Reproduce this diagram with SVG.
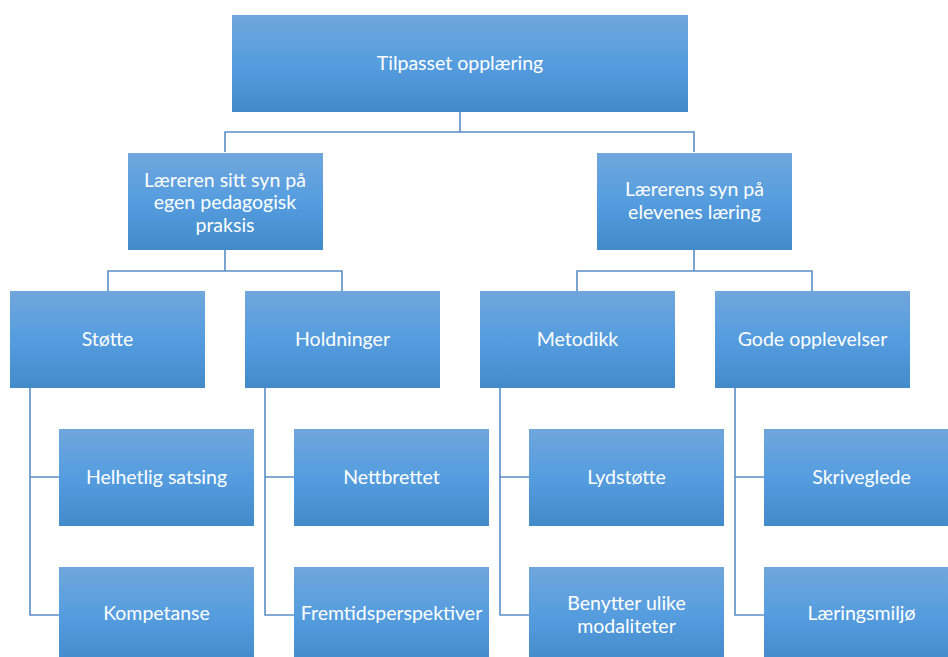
<svg xmlns="http://www.w3.org/2000/svg" width="948" height="657" viewBox="0 0 948 657">
<defs>
<linearGradient id="g" x1="0" y1="0" x2="0" y2="1">
<stop offset="0" stop-color="#70a6dc"/>
<stop offset="0.5" stop-color="#559ddf"/>
<stop offset="1" stop-color="#438ac9"/>
</linearGradient>
<style>
.b{fill:url(#g);}
.t{font-family:Lato,"Liberation Sans",sans-serif;font-size:19.5px;fill:#ffffff;text-anchor:middle;}
.c{fill:none;stroke:#5b8ec6;stroke-width:1.6;}
</style>
</defs>
<rect width="948" height="657" fill="#ffffff"/>
<g id="connectors">
<path class="c" d="M460 112V132M225 152V132H694V152"/>
<path class="c" d="M225 250V271M108 291V271H342V291"/>
<path class="c" d="M694 250V271M577 291V271H812V291"/>
<path class="c" d="M30 388V615H59M30 477H59"/>
<path class="c" d="M265 388V615H294M265 477H294"/>
<path class="c" d="M500 388V615H529M500 477H529"/>
<path class="c" d="M735 388V615H764M735 477H764"/>
</g>
<g id="n0"><rect class="b" x="232" y="15" width="456" height="97"/><text class="t" x="460" y="70">Tilpasset opplæring</text></g>
<g id="n1"><rect class="b" x="128" y="153" width="195" height="97"/><text class="t" x="225" y="187">Læreren sitt syn på</text><text class="t" x="225" y="209">egen pedagogisk</text><text class="t" x="225" y="232">praksis</text></g>
<g id="n2"><rect class="b" x="597" y="153" width="195" height="97"/><text class="t" x="694.5" y="196">Lærerens syn på</text><text class="t" x="694.5" y="219">elevenes læring</text></g>
<g id="n3"><rect class="b" x="10" y="291" width="195" height="97"/><text class="t" x="107.5" y="346">Støtte</text></g>
<g id="n4"><rect class="b" x="245" y="291" width="195" height="97"/><text class="t" x="342.5" y="346">Holdninger</text></g>
<g id="n5"><rect class="b" x="480" y="291" width="195" height="97"/><text class="t" x="577.5" y="346">Metodikk</text></g>
<g id="n6"><rect class="b" x="715" y="291" width="195" height="97"/><text class="t" x="812.5" y="346">Gode opplevelser</text></g>
<g id="n7"><rect class="b" x="59" y="429" width="195" height="97"/><text class="t" x="156.5" y="484">Helhetlig satsing</text></g>
<g id="n8"><rect class="b" x="59" y="567" width="195" height="97"/><text class="t" x="156.5" y="620">Kompetanse</text></g>
<g id="n9"><rect class="b" x="294" y="429" width="195" height="97"/><text class="t" x="391.5" y="484">Nettbrettet</text></g>
<g id="n10"><rect class="b" x="294" y="567" width="195" height="97"/><text class="t" x="391.5" y="620">Fremtidsperspektiver</text></g>
<g id="n11"><rect class="b" x="529" y="429" width="195" height="97"/><text class="t" x="626.5" y="484">Lydstøtte</text></g>
<g id="n12"><rect class="b" x="529" y="567" width="195" height="97"/><text class="t" x="626.5" y="610">Benytter ulike</text><text class="t" x="626.5" y="633">modaliteter</text></g>
<g id="n13"><rect class="b" x="764" y="429" width="195" height="97"/><text class="t" x="861.5" y="484">Skriveglede</text></g>
<g id="n14"><rect class="b" x="764" y="567" width="195" height="97"/><text class="t" x="861.5" y="620">Læringsmiljø</text></g>
</svg>
